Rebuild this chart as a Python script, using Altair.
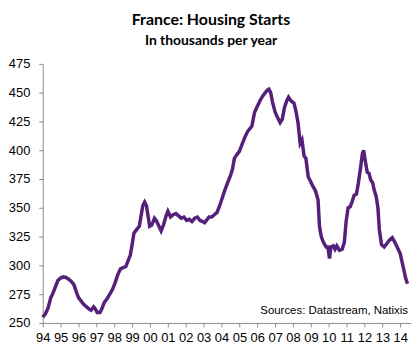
import altair as alt
import pandas as pd

years = [
    1994.00, 1994.15, 1994.30, 1994.45, 1994.55, 1994.70, 1994.85, 1995.00, 1995.15, 1995.30,
    1995.45, 1995.60, 1995.75, 1995.90, 1996.00, 1996.15, 1996.30, 1996.45, 1996.60, 1996.70,
    1996.85, 1996.95, 1997.05, 1997.20, 1997.30, 1997.45, 1997.60, 1997.75, 1997.90, 1998.05,
    1998.20, 1998.35, 1998.50, 1998.65, 1998.75, 1998.90, 1999.00, 1999.10, 1999.25, 1999.40,
    1999.50, 1999.60, 1999.70, 1999.80, 1999.90, 1999.98, 2000.10, 2000.25, 2000.35, 2000.50,
    2000.62, 2000.75, 2000.90, 2001.00, 2001.15, 2001.30, 2001.45, 2001.60, 2001.75, 2001.90,
    2002.05, 2002.20, 2002.35, 2002.50, 2002.65, 2002.80, 2002.95, 2003.05, 2003.20, 2003.30,
    2003.45, 2003.60, 2003.75, 2003.90, 2004.05, 2004.20, 2004.35, 2004.50, 2004.62, 2004.72,
    2004.85, 2005.00, 2005.15, 2005.30, 2005.45, 2005.55, 2005.70, 2005.85, 2006.00, 2006.15,
    2006.30, 2006.45, 2006.55, 2006.65, 2006.75, 2006.85, 2007.00, 2007.15, 2007.28, 2007.40,
    2007.52, 2007.65, 2007.75, 2007.88, 2008.05, 2008.15, 2008.28, 2008.40, 2008.50, 2008.62,
    2008.72, 2008.85, 2008.95, 2009.10, 2009.25, 2009.40, 2009.48, 2009.58, 2009.70, 2009.85,
    2009.95, 2010.04, 2010.12, 2010.25, 2010.35, 2010.45, 2010.60, 2010.75, 2010.87, 2010.97,
    2011.08, 2011.20, 2011.30, 2011.42, 2011.55, 2011.65, 2011.78, 2011.88, 2011.95, 2012.05,
    2012.15, 2012.25, 2012.35, 2012.45, 2012.55, 2012.65, 2012.75, 2012.83, 2012.95, 2013.10,
    2013.25, 2013.40, 2013.55, 2013.70, 2013.85, 2014.00, 2014.10, 2014.20, 2014.30, 2014.40,
]
starts = [
    255, 258, 263, 272, 275, 281, 287, 289, 290, 289.5,
    288, 286, 283, 276, 272, 269, 266, 264, 262, 261,
    264, 262, 259, 259, 262, 268, 271, 275, 279, 285,
    292, 297, 298, 299, 303, 309, 318, 328, 331, 334,
    343, 352, 355, 352, 342, 334, 335, 341, 339, 334,
    330, 335, 343, 347, 342, 344, 345, 343, 341, 342,
    339, 340, 338, 341, 342, 339, 338, 337, 340, 342,
    342, 344, 346, 352, 359, 366, 372, 378, 384, 393,
    396, 399, 405, 411, 416, 418, 421, 433, 438, 443,
    447, 450, 452, 453, 450, 442, 433, 428, 424, 427,
    437, 443, 446, 443, 441, 435, 424, 406, 409, 395,
    393, 377, 374, 369, 365, 357, 334, 325, 320, 316,
    316, 306, 316, 317, 314, 317, 313, 314, 320, 338,
    350, 351, 355, 361, 362, 371, 385, 397, 400, 390,
    381, 380, 374, 372, 365, 360, 350, 331, 318, 316,
    319, 322, 324, 320, 315, 310, 303, 296, 289, 284,
]
tick_years = list(range(1994, 2015))
y_ticks = [250, 275, 300, 325, 350, 375, 400, 425, 450, 475]
source_text = "Sources: Datastream, Natixis"

df = pd.DataFrame({"year": years, "starts": starts})

axis_color = "#8c8c8c"

line = alt.Chart(df).mark_line(color="#55207A", strokeWidth=3.5).encode(
    x=alt.X(
        "year:Q",
        scale=alt.Scale(domain=[1994, 2014.6], nice=False, zero=False),
        axis=alt.Axis(
            values=tick_years,
            labelExpr="substring(toString(datum.value), 2, 4)",
            title=None,
            grid=False,
            domainColor=axis_color,
            tickColor=axis_color,
            tickSize=4,
            labelPadding=5,
            labelFont="Liberation Sans",
            labelFontSize=13,
            labelColor="#000000",
            labelOverlap=False,
            labelFlush=False,
        ),
    ),
    y=alt.Y(
        "starts:Q",
        scale=alt.Scale(domain=[250, 475], nice=False, zero=False),
        axis=alt.Axis(
            values=y_ticks,
            title=None,
            grid=False,
            domainColor=axis_color,
            tickColor=axis_color,
            tickSize=4,
            labelPadding=9,
            labelFont="Liberation Sans",
            labelFontSize=13,
            labelColor="#000000",
            labelOverlap=False,
            labelFlush=False,
        ),
    ),
)

src = alt.Chart(pd.DataFrame({"t": [source_text]})).mark_text(
    align="right", baseline="alphabetic", font="Liberation Sans", fontSize=11.5, color="#000000"
).encode(text="t:N", x=alt.value(368), y=alt.value(252))

chart = (
    alt.layer(line, src)
    .properties(
        width=371,
        height=261,
        padding={"left": 35, "top": 55, "right": 0, "bottom": 30},
        autosize=alt.AutoSizeParams(type="none"),
        title=alt.TitleParams(
            text="France: Housing Starts",
            subtitle="In thousands per year",
            font="Lato",
            fontSize=16,
            fontWeight="bold",
            subtitleFont="Lato",
            subtitleFontSize=14,
            subtitleFontWeight="bold",
            subtitleColor="#000000",
            color="#000000",
            anchor="middle",
            dx=-16,
            offset=10,
            subtitlePadding=6,
        ),
    )
    .configure_view(stroke=None)
)

chart.save("out.html", embed_options={"renderer": "svg", "actions": False})
